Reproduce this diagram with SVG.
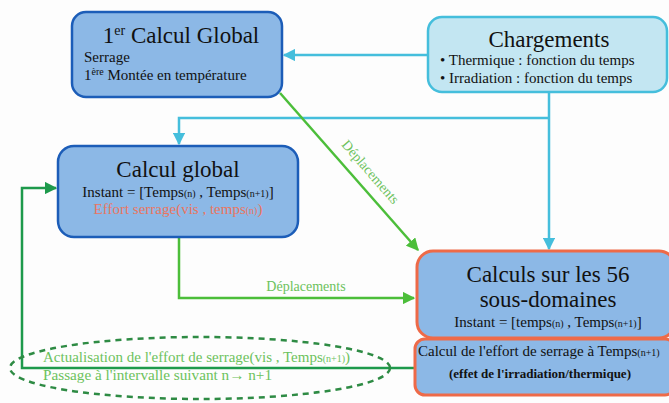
<svg xmlns="http://www.w3.org/2000/svg" width="669" height="403" viewBox="0 0 669 403">
<defs>
<style>
.t{font-family:"Liberation Serif","Times New Roman",serif;fill:#111}
.h{font-size:23px}
.s{font-size:15px}
.box{fill:#8cb8e6;stroke:#1c5db8;stroke-width:2.5}
.obox{fill:#8cb8e6;stroke:#ee6a48;stroke-width:3}
.cyan{fill:none;stroke:#45bedc;stroke-width:2.5}
.green{fill:none;stroke:#4cbe3a;stroke-width:2.5}
.dgreen{fill:none;stroke:#1e9a4c;stroke-width:2.5}
.gl{fill:#6cc25c;font-family:"Liberation Serif","Times New Roman",serif}
.r{fill:#ea7560;font-family:"Liberation Serif","Times New Roman",serif}
.sub{font-size:10px}
</style>
<marker id="ac" viewBox="0 0 10 10" refX="9" refY="5" markerWidth="5" markerHeight="5" orient="auto" markerUnits="strokeWidth"><path d="M0,0L10,5L0,10z" fill="#45bedc"/></marker>
<marker id="ag" viewBox="0 0 10 10" refX="9" refY="5" markerWidth="5" markerHeight="5" orient="auto" markerUnits="strokeWidth"><path d="M0,0L10,5L0,10z" fill="#4cbe3a"/></marker>
<marker id="ad" viewBox="0 0 10 10" refX="9" refY="5" markerWidth="5" markerHeight="5" orient="auto" markerUnits="strokeWidth"><path d="M0,0L10,5L0,10z" fill="#1e9a4c"/></marker>
</defs>
<rect width="669" height="403" fill="#fdfdfd"/>
<g id="connectors">
<path class="cyan" d="M428,55H284" marker-end="url(#ac)"/>
<path class="cyan" d="M549,92V249" marker-end="url(#ac)"/>
<path class="cyan" d="M549,118H179V144" marker-end="url(#ac)"/>
<path class="green" d="M280,93L418,250" marker-end="url(#ag)"/>
<path class="green" d="M179,237V298H414" marker-end="url(#ag)"/>
<path class="dgreen" d="M415,368H22V188H56" marker-end="url(#ad)"/>
<text class="gl" font-size="14" transform="translate(367,175) rotate(49)" text-anchor="middle">Déplacements</text>
<text class="gl" font-size="14" x="306" y="291" text-anchor="middle">Déplacements</text>
</g>
<g id="n-premier">
<rect class="box" x="72" y="12" width="210" height="85" rx="14"/>
<text class="t h" x="181" y="43" text-anchor="middle">1<tspan font-size="14" dy="-8">er</tspan><tspan dy="8"> Calcul Global</tspan></text>
<text class="t s" x="84" y="62">Serrage</text>
<text class="t s" x="84" y="80">1<tspan font-size="10" dy="-5">ère</tspan><tspan dy="5"> Montée en température</tspan></text>
</g>
<g id="n-chargements">
<rect x="428" y="17" width="239" height="75" rx="14" fill="#c3e6f2" stroke="#45bedc" stroke-width="2.5"/>
<text class="t h" x="549" y="47" text-anchor="middle">Chargements</text>
<text class="t s" x="440" y="65">• Thermique : fonction du temps</text>
<text class="t s" x="440" y="83">• Irradiation : fonction du temps</text>
</g>
<g id="n-global">
<rect class="box" x="58" y="146" width="240" height="91" rx="16"/>
<text class="t h" x="178" y="177" text-anchor="middle">Calcul global</text>
<text class="t s" x="178" y="197" text-anchor="middle">Instant = [Temps<tspan class="sub">(n)</tspan> , Temps<tspan class="sub">(n+1)</tspan>]</text>
<text class="r s" x="178" y="214" text-anchor="middle">Effort serrage(vis , temps<tspan class="sub">(n)</tspan>)</text>
</g>
<g id="n-calculs">
<rect class="obox" x="417" y="251" width="258" height="87" rx="16"/>
<text class="t h" x="548" y="282" text-anchor="middle">Calculs sur les 56</text>
<text class="t h" x="548" y="307" text-anchor="middle">sous-domaines</text>
<text class="t s" x="548" y="327" text-anchor="middle">Instant = [temps<tspan class="sub">(n)</tspan> , Temps<tspan class="sub">(n+1)</tspan>]</text>
</g>
<g id="n-effort">
<rect class="obox" x="415" y="339" width="260" height="56" rx="10"/>
<text class="t s" x="418" y="356">Calcul de l'effort de serrage à Temps<tspan class="sub">(n+1)</tspan></text>
<text class="t" font-size="13" font-weight="bold" x="540" y="378" text-anchor="middle">(effet de l'irradiation/thermique)</text>
</g>
<g id="n-actualisation">
<ellipse cx="200" cy="368" rx="190" ry="31" fill="none" stroke="#2e8b44" stroke-width="2.5" stroke-dasharray="6,5"/>
<text class="gl s" x="43" y="362">Actualisation de l'effort de serrage(vis , Temps<tspan class="sub">(n+1)</tspan>)</text>
<text class="gl s" x="43" y="380" textLength="229" lengthAdjust="spacingAndGlyphs">Passage à l'intervalle suivant n→ n+1</text>
</g>
</svg>
